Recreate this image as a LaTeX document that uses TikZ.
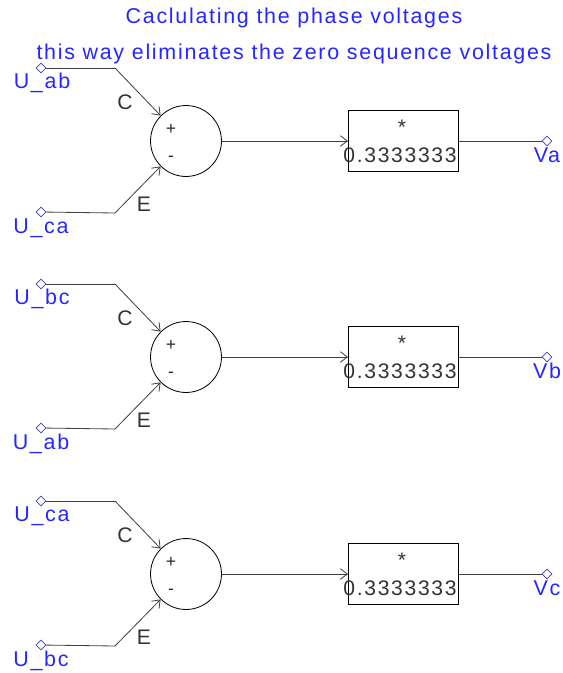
\documentclass[tikz,border=0pt]{standalone}
\usepackage{fontspec}
\setmainfont[LetterSpace=8]{Liberation Sans}
\usetikzlibrary{shapes.geometric, arrows.meta}
\colorlet{labelblue}{blue!85!white}
\tikzset{
    terminal/.style={draw=blue!50!gray, diamond, inner sep=0pt, minimum size=8.5pt, line width=0.5pt, fill=white},
    sumblock/.style={draw=black, circle, inner sep=0pt, minimum size=71*0.853pt, line width=0.7pt},
    gainblock/.style={draw=black, rectangle, inner sep=0pt, minimum width=110*0.853pt, minimum height=61*0.853pt, line width=0.9pt},
    blueline/.style={font=\fontsize{18.3}{20}\selectfont, text=labelblue, inner sep=0pt},
    wirelabel/.style={font=\fontsize{18}{20}\selectfont, text=black!80, inner sep=0pt},
    signlabel/.style={font=\fontsize{15}{17}\selectfont, text=black!85, inner sep=0pt},
    wire/.style={draw=black!75, line width=0.7pt},
    barb/.style={-{Straight Barb[length=6pt, width=9pt]}},
}
\begin{document}
\begin{tikzpicture}[x=0.03cm, y=-0.03cm]
    \useasboundingbox (0,0) rectangle (563,673);
    % Heading
    \node[blueline] (title1) at (294,18) {Caclulating the phase voltages};
    \node[blueline] (title2) at (294,54) {this way eliminates the zero sequence voltages};

    % The three rows only differ by their signals
    \foreach \row/\yy/\siga/\sigb/\out in {a/0/U\_ab/U\_ca/Va, b/216/U\_bc/U\_ab/Vb, c/433/U\_ca/U\_bc/Vc} {
        % Wires first, the labels sit on top of them
        \coordinate (bend1\row) at (115,68+\yy);
        \coordinate (bend2\row) at (115,213+\yy);
        \node[terminal] (in1\row) at (41,68+\yy) {};
        \node[terminal] (in2\row) at (41,212+\yy) {};
        \node[sumblock] (sum\row) at (186,141+\yy) {};
        \node[gainblock] (gain\row) at (403.5,141+\yy) {};
        \node[terminal] (out\row) at (547,141+\yy) {};
        \draw[wire] (in1\row) -- (bend1\row);
        \draw[wire] (in2\row) -- (bend2\row);
        \draw[wire, barb] (bend1\row) -- (sum\row.135);
        \draw[wire, barb] (bend2\row) -- (sum\row.225);
        \draw[wire, barb] (sum\row.east) -- (gain\row.west);
        \draw[wire] (gain\row.east) -- (out\row);

        % Labels
        \node[blueline] (name1\row) at (42,83+\yy) {\siga};
        \node[blueline] (name2\row) at (41,228+\yy) {\sigb};
        \node[blueline] (name3\row) at (547,155+\yy) {\out};
        \node[signlabel] (plus\row) at (171,129+\yy) {+};
        \node[signlabel] (minus\row) at (171,159+\yy) {-};
        \node[wirelabel] (star\row) at (402,127+\yy) {*};
        \node[wirelabel] (value\row) at (400,155+\yy) {0.3333333};
        \node[wirelabel] (c\row) at (125,102+\yy) {C};
        \node[wirelabel] (e\row) at (144,204+\yy) {E};
    }
\end{tikzpicture}
\end{document}
